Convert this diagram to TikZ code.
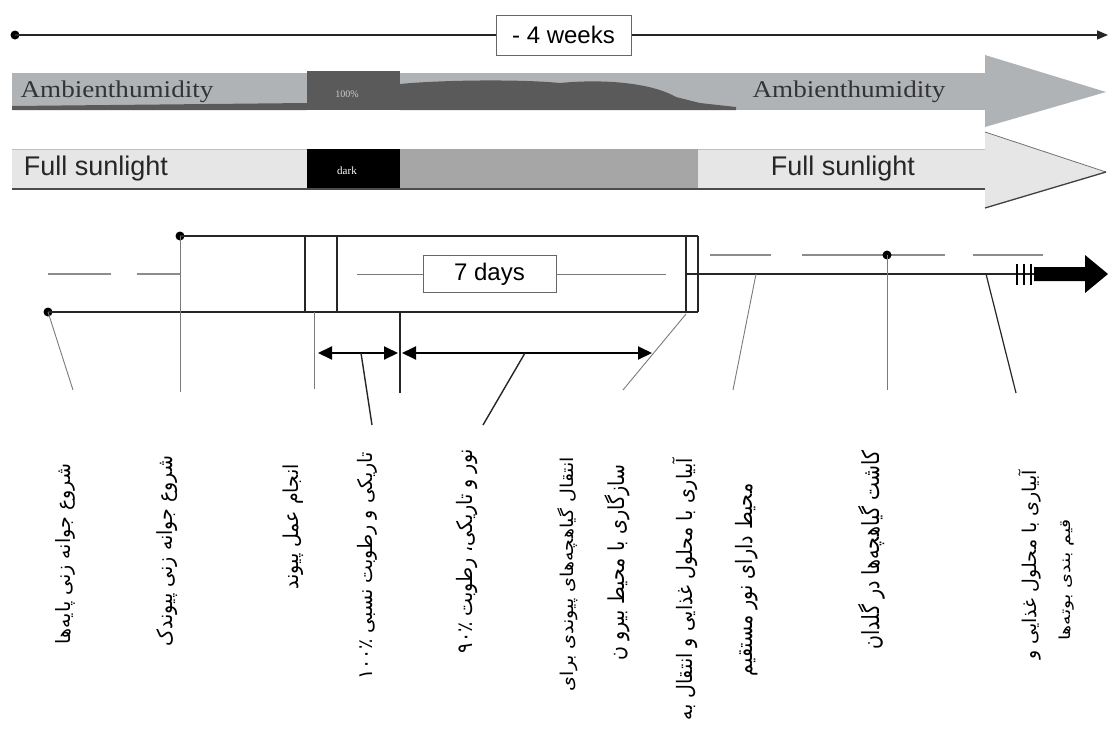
\documentclass[tikz,border=0pt]{standalone}
\usepackage{fontspec}
\setmainfont{Liberation Serif}
\newfontfamily\arialf{Liberation Sans}
\newfontfamily\arabicfont[Script=Arabic]{DejaVu Sans}
\TeXXeTstate=1
\usetikzlibrary{arrows.meta}
\definecolor{humgray}{HTML}{B0B3B6}
\definecolor{darkgray2}{HTML}{5A5A5A}
\definecolor{lightbar}{HTML}{E6E6E6}
\definecolor{midgray}{HTML}{A6A6A6}
\definecolor{linegray}{HTML}{7A7A7A}
\begin{document}
\begin{tikzpicture}[x=1pt,y=-1pt,
  thickline/.style={line width=2pt,black!85},
  thinline/.style={line width=0.9pt,linegray},
  dashgray/.style={line width=1.2pt,black!45},
  leader/.style={line width=1.4pt,black!85},
  lbl/.style={rotate=90,font=\arabicfont\fontsize{19}{21}\selectfont,inner sep=0pt},
  dimarrow/.style={line width=2pt,black,{Triangle[length=14pt,width=13pt]}-{Triangle[length=14pt,width=13pt]}},
  tagbox/.style={draw=black!60,line width=0.8pt,fill=white,font=\arialf\fontsize{24}{26}\selectfont,inner sep=0pt},
  dotmark/.style={circle,fill=black,inner sep=0pt,minimum size=9pt}]
\useasboundingbox (0,0) rectangle (1108,731);
\fill[white] (0,0) rectangle (1108,731);

% ---------- top time axis ----------
\node[dotmark] (d0) at (15,35) {};
\coordinate (topend) at (1108,35);
\draw[line width=1.3pt,black!85,-{Triangle[length=11pt,width=9pt]}] (d0.center) -- (topend);
\node[tagbox,minimum width=135pt,minimum height=40pt] (weeks) at (563.5,35) {- 4 weeks};

% ---------- humidity bar ----------
\fill[humgray] (12,73) rectangle (985,110);
\fill[humgray] (985,55) -- (1106,92) -- (985,127) -- cycle;
\fill[darkgray2] (12,106) -- (307,103) -- (307,110) -- (12,110) -- cycle;
\fill[darkgray2] (307,71) rectangle (400,110);
\fill[darkgray2] (400,110) -- (400,84) .. controls (440,80) and (520,79) .. (560,83)
  .. controls (600,79) and (650,82) .. (676,97) -- (700,103) -- (736,107) -- (736,110) -- cycle;
\node[font=\fontsize{24}{26}\selectfont,xscale=1.13,black!80,inner sep=0pt] (hum1) at (117,92) {Ambienthumidity};
\node[font=\fontsize{24}{26}\selectfont,xscale=1.13,black!80,inner sep=0pt] (hum2) at (849,92) {Ambienthumidity};
\node[font=\fontsize{10}{12}\selectfont,black!20,inner sep=0pt] (pct) at (347,94) {100\%};

% ---------- sunlight bar ----------
\fill[lightbar] (12,149) rectangle (985,189);
\fill[midgray] (400,149) rectangle (698,189);
\fill[black] (307,149) rectangle (400,190);
\fill[lightbar] (985,132) -- (1106,172) -- (985,208) -- cycle;
\draw[line width=0.8pt,black!55] (985,132) -- (1106,172);
\draw[line width=1.3pt,black!75] (985,208) -- (1106,172);
\draw[line width=1.4pt,black!70] (12,189) -- (985,189);
\draw[line width=0.5pt,black!25] (12,149) -- (307,149) (698,149) -- (985,149);
\node[font=\arialf\fontsize{27}{29}\selectfont,black!85,inner sep=0pt] (sun1) at (96,169) {Full sunlight};
\node[font=\arialf\fontsize{27}{29}\selectfont,black!85,inner sep=0pt] (sun2) at (843,169) {Full sunlight};
\node[font=\fontsize{11}{12}\selectfont,white,inner sep=0pt] (dk) at (347,171) {dark};

% ---------- timeline ----------
\node[dotmark] (dA) at (48,312) {};
\node[dotmark] (dB) at (180,236) {};
\coordinate (lowR) at (698,312);
\coordinate (upR) at (698,236);
\draw[thickline] (dA.center) -- (lowR);
\draw[thickline] (dB.center) -- (upR);
\foreach \xx/\nm in {305/v1,337/v2,686/v3,698/v4}{
  \coordinate (\nm t) at (\xx,236); \coordinate (\nm b) at (\xx,312);
  \draw[thickline] (\nm t) -- (\nm b);}
% dashed guides
\draw[dashgray] (48,274) -- (111,274) (137,274) -- (180,274);
\draw[dashgray] (710,255) -- (771,255) (802,255) -- (945,255) (973,255) -- (1043,255);
\node[dotmark] (dC) at (887,255) {};
% 7 days
\node[tagbox,minimum width=133pt,minimum height=37pt] (days) at (489.5,274) {7 days};
\coordinate (inL) at (357,274);
\coordinate (inR) at (666,274);
\draw[thinline] (inL) -- (days.west);
\draw[thinline] (days.east) -- (inR);
% main line to the right
\coordinate (mainL) at (686,274);
\coordinate (mainR) at (1034,274);
\draw[thickline] (mainL) -- (mainR);
\foreach \xx in {1017,1024,1031}{\draw[line width=2.2pt] (\xx,264) -- (\xx,285);}
\fill[black] (1034,267) -- (1085,267) -- (1085,255) -- (1108,274) -- (1085,293) -- (1085,281) -- (1034,281) -- cycle;

% dimension arrows
\coordinate (a1L) at (318,353); \coordinate (a1R) at (398,353);
\coordinate (a2L) at (402,353); \coordinate (a2R) at (652,353);
\draw[dimarrow] (a1L) -- (a1R);
\draw[dimarrow] (a2L) -- (a2R);

% leader lines
\coordinate (e1) at (73,390);
\draw[thinline] (dA.center) -- (e1);
\coordinate (e2) at (180,392);
\draw[thinline] (dB.center) -- (e2);
\coordinate (s3) at (314,312); \coordinate (e3) at (314,389);
\draw[thinline] (s3) -- (e3);
\coordinate (s4) at (400,312); \coordinate (e4) at (400,393);
\draw[leader] (s4) -- (e4);
\coordinate (s5) at (361,353); \coordinate (e5) at (372,425);
\draw[leader] (s5) -- (e5);
\coordinate (s6) at (525,353); \coordinate (e6) at (483,425);
\draw[leader] (s6) -- (e6);
\coordinate (s7) at (686,314); \coordinate (e7) at (623,390);
\draw[thinline] (s7) -- (e7);
\coordinate (s8) at (756,274); \coordinate (e8) at (733,390);
\draw[thinline] (s8) -- (e8);
\coordinate (e9) at (887,390);
\draw[thinline] (dC.center) -- (e9);
\coordinate (s10) at (986,274); \coordinate (e10) at (1016,393);
\draw[leader,line width=1.2pt] (s10) -- (e10);

% ---------- Persian labels ----------
\node[lbl,yscale=1.04] (t1) at (65,554) {\beginR شروع جوانه زنی پایه‌ها\endR};
\node[lbl,yscale=1.10] (t2) at (167,551) {\beginR شروع جوانه زنی پیوندک\endR};
\node[lbl,yscale=1.08] (t3) at (293,527) {\beginR انجام عمل پیوند\endR};
\node[lbl,yscale=1.05] (t4) at (367,566) {\beginR تاریکی و رطوبت نسبی \beginL ۱۰۰٪\endL\endR};
\node[lbl,yscale=1.12] (t5) at (467,551) {\beginR نور و تاریکی، رطوبت \beginL ۹۰٪\endL\endR};
\node[lbl,yscale=0.93] (t6a) at (568,574) {\beginR انتقال گیاهچه‌های پیوندی برای\endR};
\node[lbl,yscale=1.16] (t6b) at (617,563) {\beginR سازگاری با محیط بیرو ن\endR};
\node[lbl,yscale=1.12] (t7a) at (685,589) {\beginR آبیاری با محلول غذایی و انتقال به\endR};
\node[lbl,yscale=1.19] (t7b) at (747,580) {\beginR محیط دارای نور مستقیم\endR};
\node[lbl,yscale=1.24] (t8) at (872,550) {\beginR کاشت گیاهچه‌ها در گلدان\endR};
\node[lbl] (t9a) at (1030,565) {\beginR آبیاری با محلول غذایی و\endR};
\node[lbl,yscale=0.8] (t9b) at (1067,580) {\beginR قیم بندی بوته‌ها\endR};
\end{tikzpicture}
\end{document}
